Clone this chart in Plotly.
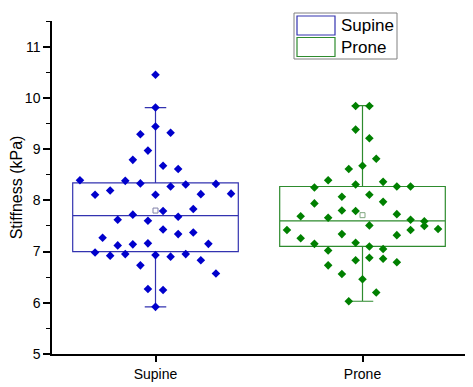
import plotly.graph_objects as go

# ---------------- data ----------------
categories = ["Supine", "Prone"]

supine_values = [10.45, 9.81, 9.44, 9.29, 9.32, 8.97, 8.79, 8.675, 8.61, 8.39,
                 8.38, 8.33, 8.27, 8.31, 8.32, 8.11, 8.19, 8.11, 8.12, 8.13,
                 7.79, 7.83, 7.72, 7.62, 7.60, 7.68, 7.43, 7.34, 7.37, 7.27,
                 7.12, 7.14, 7.16, 7.15, 6.98, 6.92, 6.95, 6.93, 6.90, 6.95,
                 6.73, 6.83, 6.57, 6.27, 6.25, 5.92]
# distribution slot of each point (Origin "data overlap" layout)
supine_slots = [0, 0, 0, -2, 2, -1, -3, 1, 3, -10,
                -4, -2, 2, 4, 8, -8, -6, 0, 6, 10,
                1, 5, -3, -5, -1, 3, 1, 3, 5, -7,
                -5, -3, -1, 7, -8, -6, -4, 0, 2, 4,
                -2, 6, 8, -1, 1, 0]

prone_values = [9.84, 9.84, 9.38, 9.21, 8.81, 8.61, 8.675, 8.39, 8.25, 8.31,
                8.36, 8.27, 8.27, 8.07, 8.11, 7.94, 7.97, 7.80, 7.79, 7.69,
                7.66, 7.73, 7.62, 7.59, 7.50, 7.44, 7.42, 7.42, 7.51, 7.34,
                7.32, 7.26, 7.15, 7.17, 7.10, 7.02, 7.05, 6.83, 6.88, 6.86,
                6.79, 6.73, 6.56, 6.46, 6.20, 6.03]
prone_slots = [-1, 1, -1, 1, 2, -2, 0, -5, -7, -1,
               3, 5, 7, -3, 1, -7, 3, -3, -1, -9,
               -5, 5, 7, 9, 9, 11, 7, -11, 1, -3,
               5, -9, -7, -1, 1, -5, 3, -1, 1, 3,
               5, -5, -3, 0, 2, -2]

# box statistics (as drawn in the reference)
q1 = [7.00, 7.10]
median = [7.70, 7.60]
q3 = [8.34, 8.27]
lower_whisker = [5.92, 6.03]
upper_whisker = [9.81, 9.85]
means = [7.80, 7.71]

# ---------------- styling ----------------
FONT = "Liberation Sans, Arial, sans-serif"
point_colors = ["#0000CC", "#008000"]
box_colors = ["#3333B0", "#2E8B2E"]
mean_colors = ["#8080A8", "#80A880"]
BOX_WIDTH = 0.8
SPREAD = 0.365  # half-width of the point distribution (data units)

fig = go.Figure()

series = [(supine_values, supine_slots), (prone_values, prone_slots)]
for i, (vals, slots) in enumerate(series):
    fig.add_trace(go.Box(
        x=[i], q1=[q1[i]], median=[median[i]], q3=[q3[i]],
        lowerfence=[lower_whisker[i]], upperfence=[upper_whisker[i]],
        width=BOX_WIDTH, whiskerwidth=0.13, boxpoints=False,
        line=dict(color=box_colors[i], width=1.2),
        fillcolor="rgba(0,0,0,0)", name=categories[i], showlegend=False,
        hoverinfo="skip",
    ))
    max_slot = max(abs(s) for s in slots)
    xs = [i + s / max_slot * SPREAD for s in slots]
    fig.add_trace(go.Scatter(
        x=xs, y=vals, mode="markers", showlegend=False,
        marker=dict(symbol="diamond", size=6.6, color=point_colors[i],
                    line=dict(width=0)),
    ))
    fig.add_trace(go.Scatter(
        x=[i], y=[means[i]], mode="markers", showlegend=False,
        marker=dict(symbol="square-open", size=5, color=mean_colors[i],
                    line=dict(width=1)),
    ))

# ---------------- layout ----------------
# the page body has a default 8px margin, so the figure is drawn 8px in
PAGE = 8
W, H = 473 - PAGE, 387 - PAGE
L, R, T, B = 52 - PAGE, 7, 21 - PAGE, 33
pw, ph = W - L - R, H - T - B


def px2paper(x, y):
    """window pixel -> paper coords"""
    x -= PAGE
    y -= PAGE
    return (x - L) / pw, (H - B - y) / ph


shapes = []
annotations = []
# legend frame
x0, y0 = px2paper(294, 59)
x1, y1 = px2paper(397, 13)
shapes.append(dict(type="rect", xref="paper", yref="paper", x0=x0, y0=y0, x1=x1, y1=y1,
                   line=dict(color="#808080", width=1), fillcolor="white", layer="above"))
for k, (name, col) in enumerate(zip(categories, box_colors)):
    top = 16 + k * 21.5
    sx0, sy0 = px2paper(297, top + 19)
    sx1, sy1 = px2paper(335, top)
    shapes.append(dict(type="rect", xref="paper", yref="paper", x0=sx0, y0=sy0, x1=sx1, y1=sy1,
                       line=dict(color=col, width=1.2), fillcolor="rgba(0,0,0,0)", layer="above"))
    tx, ty = px2paper(339, top + 9.5)
    annotations.append(dict(xref="paper", yref="paper", x=tx, y=ty, text=name,
                            showarrow=False, xanchor="left", yanchor="middle",
                            font=dict(family=FONT, size=17, color="black")))

fig.update_layout(
    width=W, height=H,
    margin=dict(l=L, r=R, t=T, b=B, pad=0, autoexpand=False),
    paper_bgcolor="white", plot_bgcolor="white",
    font=dict(family=FONT, size=14, color="black"),
    shapes=shapes, annotations=annotations,
    xaxis=dict(range=[-0.5, 1.5], tickvals=[0, 1], ticktext=categories,
               showgrid=False, zeroline=False, showline=True, linecolor="black",
               linewidth=1.5, ticks="outside", ticklen=6, tickwidth=1.5,
               tickcolor="black", tickfont=dict(size=14), automargin=False),
    yaxis=dict(range=[5, 11.5], dtick=1, tick0=5, showgrid=False, zeroline=False,
               showline=True, linecolor="black", linewidth=1.5, ticks="outside",
               ticklen=7, tickwidth=1.5, tickcolor="black", tickfont=dict(size=14),
               minor=dict(dtick=0.5, ticks="outside", ticklen=4, tickwidth=1.2,
                          tickcolor="black", showgrid=False),
               automargin=False,
               title=dict(text="Stiffness (kPa)", font=dict(size=16), standoff=3)),
)

fig.write_html("out.html")
